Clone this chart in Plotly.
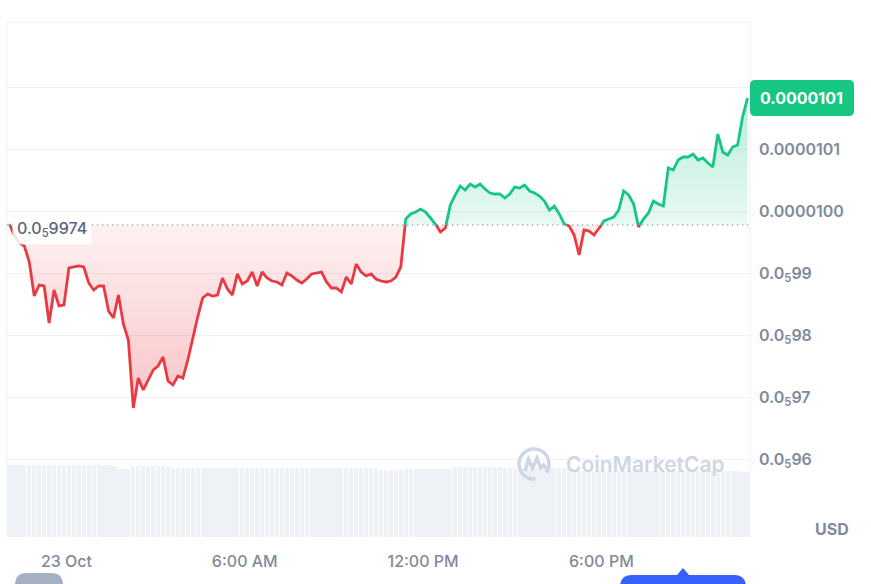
import math
from datetime import datetime, timedelta
import plotly.graph_objects as go

# ---------------- data ----------------
start_time = datetime(2023, 10, 22, 22, 5)
step_minutes = 10
prices = [
    9.9990e-6, 9.9797e-6, 9.9684e-6, 9.9635e-6, 9.9377e-6, 9.8829e-6, 9.9006e-6, 9.8990e-6, 9.8394e-6, 9.8926e-6,
    9.8668e-6, 9.8684e-6, 9.9281e-6, 9.9297e-6, 9.9313e-6, 9.9297e-6, 9.9039e-6, 9.8926e-6, 9.8990e-6, 9.8990e-6,
    9.8587e-6, 9.8474e-6, 9.8845e-6, 9.8377e-6, 9.8119e-6, 9.7023e-6, 9.7506e-6, 9.7313e-6, 9.7474e-6, 9.7635e-6,
    9.7700e-6, 9.7845e-6, 9.7458e-6, 9.7394e-6, 9.7539e-6, 9.7506e-6, 9.7797e-6, 9.8152e-6, 9.8490e-6, 9.8797e-6,
    9.8861e-6, 9.8829e-6, 9.8845e-6, 9.9119e-6, 9.8942e-6, 9.8845e-6, 9.9184e-6, 9.9023e-6, 9.9071e-6, 9.9216e-6,
    9.8990e-6, 9.9216e-6, 9.9119e-6, 9.9071e-6, 9.9055e-6, 9.9006e-6, 9.9200e-6, 9.9152e-6, 9.9087e-6, 9.9039e-6,
    9.9103e-6, 9.9184e-6, 9.9200e-6, 9.9216e-6, 9.9055e-6, 9.8958e-6, 9.8958e-6, 9.8894e-6, 9.9135e-6, 9.9023e-6,
    9.9345e-6, 9.9216e-6, 9.9152e-6, 9.9184e-6, 9.9103e-6, 9.9071e-6, 9.9055e-6, 9.9071e-6, 9.9135e-6, 9.9297e-6,
    1.00071e-5, 1.00152e-5, 1.00184e-5, 1.00232e-5, 1.00184e-5, 1.00087e-5, 9.9990e-6, 9.9861e-6, 9.9926e-6, 1.00297e-5,
    1.00458e-5, 1.00603e-5, 1.00539e-5, 1.00635e-5, 1.00587e-5, 1.00635e-5, 1.00555e-5, 1.00490e-5, 1.00474e-5, 1.00474e-5,
    1.00410e-5, 1.00474e-5, 1.00587e-5, 1.00571e-5, 1.00619e-5, 1.00523e-5, 1.00490e-5, 1.00442e-5, 1.00361e-5, 1.00216e-5,
    1.00281e-5, 1.00152e-5, 9.9990e-6, 9.9958e-6, 9.9813e-6, 9.9490e-6, 9.9894e-6, 9.9877e-6, 9.9813e-6, 9.9910e-6,
    1.00039e-5, 1.00071e-5, 1.00103e-5, 1.00216e-5, 1.00523e-5, 1.00458e-5, 1.00313e-5, 9.9942e-6, 1.00071e-5, 1.00168e-5,
    1.00361e-5, 1.00313e-5, 1.00281e-5, 1.00894e-5, 1.00861e-5, 1.01023e-5, 1.01071e-5, 1.01071e-5, 1.01119e-5, 1.01023e-5,
    1.01055e-5, 1.00974e-5, 1.00910e-5, 1.01442e-5, 1.01152e-5, 1.01103e-5, 1.01232e-5, 1.01265e-5, 1.01716e-5, 1.02023e-5,
]
volumes = [
    101.4, 101.0, 101.4, 101.2, 101.4, 100.8, 101.4, 101.4, 101.0, 101.4, 101.2, 101.4, 101.4, 100.8, 101.2, 101.4,
    101.4, 101.0, 101.4, 101.2, 101.4, 100.6,
    95.8, 95.6, 95.8,
    100.0, 100.4, 100.0, 99.8, 100.2, 100.0, 100.0, 99.6,
    97.2, 97.0, 97.2, 97.4, 97.2, 97.2, 97.0, 97.2, 97.4, 97.2, 97.2, 97.0, 97.2, 97.2, 97.4, 97.2, 97.0, 97.2,
    97.2, 97.4, 97.2, 97.0, 97.2, 97.2, 97.2, 97.4, 97.0, 97.2, 97.2, 97.2, 97.0, 97.4, 97.2, 97.2, 97.0, 97.2,
    97.2, 97.4, 97.2, 97.0, 97.2, 97.2,
    94.4, 94.2, 94.6, 94.4, 94.4,
    95.8, 95.6, 95.8, 96.0, 95.8, 95.8, 95.6, 95.8, 95.8, 96.0,
    98.6, 98.4, 98.6, 98.8, 98.6, 98.6, 98.4, 98.6, 98.8, 98.6,
    97.2, 97.0, 97.2, 97.4, 97.2, 97.2, 97.0, 97.2, 97.2, 97.4, 97.2, 97.0, 97.2, 97.2,
    93.0, 92.8, 93.0, 93.2, 93.0, 93.0, 92.8, 93.0, 93.2, 93.0, 93.0, 92.8, 93.0, 93.0, 93.2, 93.0, 92.8,
    93.0, 93.0, 93.2, 93.0, 92.8, 93.0, 93.0, 93.2, 93.0, 93.0, 92.8, 93.0, 93.2, 93.0, 93.0, 92.8, 93.0,
    92.0, 92.0,
]
base_price = 9.9974e-6
last_price_text = "0.0000101"
base_price_text = "0.0<sub>5</sub>9974"

x_tick_vals = ["2023-10-23 00:00", "2023-10-23 06:00", "2023-10-23 12:00", "2023-10-23 18:00"]
x_tick_text = ["23 Oct", "6:00 AM", "12:00 PM", "6:00 PM"]
y_tick_vals = [9.62e-6, 9.72e-6, 9.82e-6, 9.92e-6, 1.002e-5, 1.012e-5, 1.022e-5]
y_tick_text = ["0.0<sub>5</sub>96", "0.0<sub>5</sub>97", "0.0<sub>5</sub>98", "0.0<sub>5</sub>99",
               "0.0000100", "0.0000101", "0.0000102"]

times = [start_time + timedelta(minutes=step_minutes * i) for i in range(len(prices))]

# ---------------- split line at baseline crossings ----------------
xs, ys = [], []
for i in range(len(prices)):
    if i > 0:
        y0, y1 = prices[i - 1], prices[i]
        if (y0 - base_price) * (y1 - base_price) < 0:
            f = (base_price - y0) / (y1 - y0)
            xs.append(times[i - 1] + (times[i] - times[i - 1]) * f)
            ys.append(base_price)
    xs.append(times[i])
    ys.append(prices[i])

green_line = [y if y >= base_price else None for y in ys]
red_line = [y if y <= base_price else None for y in ys]
green_fill = [max(y, base_price) for y in ys]
red_fill = [min(y, base_price) for y in ys]
base_line = [base_price for _ in ys]

GREEN = "#16c784"
RED = "#ea3943"
GRID = "#eff2f5"
TICK = "#808a9d"
FONT = "Inter"

fig = go.Figure()

# volume bars
fig.add_trace(go.Bar(
    x=times, y=volumes, yaxis="y2", marker=dict(color="#eef1f5", line=dict(width=0)),
    width=step_minutes * 60 * 1000 * 0.86, hoverinfo="skip", showlegend=False,
))

# fills
fig.add_trace(go.Scatter(x=xs, y=base_line, mode="lines", line=dict(width=0),
                         hoverinfo="skip", showlegend=False))
fig.add_trace(go.Scatter(
    x=xs, y=green_fill, mode="lines", line=dict(width=0), fill="tonexty",
    fillgradient=dict(type="vertical",
                      colorscale=[[0, "rgba(22,199,132,0.10)"], [1, "rgba(22,199,132,0.30)"]],
                      start=base_price, stop=max(prices)),
    hoverinfo="skip", showlegend=False))
fig.add_trace(go.Scatter(x=xs, y=base_line, mode="lines", line=dict(width=0),
                         hoverinfo="skip", showlegend=False))
fig.add_trace(go.Scatter(
    x=xs, y=red_fill, mode="lines", line=dict(width=0), fill="tonexty",
    fillgradient=dict(type="vertical",
                      colorscale=[[0, "rgba(234,57,67,0.30)"], [1, "rgba(234,57,67,0.07)"]],
                      start=min(prices), stop=base_price),
    hoverinfo="skip", showlegend=False))

# lines
fig.add_trace(go.Scatter(x=xs, y=red_line, mode="lines", line=dict(color=RED, width=2.8),
                         connectgaps=False, hoverinfo="skip", showlegend=False))
fig.add_trace(go.Scatter(x=xs, y=green_line, mode="lines", line=dict(color=GREEN, width=2.8),
                         connectgaps=False, hoverinfo="skip", showlegend=False))

# ---------------- shapes ----------------
shapes = []
# plot frame (top, left, right)
for (x0, y0, x1, y1) in [(0, 1, 1, 1), (0, 0, 0, 1), (1, 0, 1, 1)]:
    shapes.append(dict(type="line", xref="paper", yref="paper", x0=x0, y0=y0, x1=x1, y1=y1,
                       line=dict(color=GRID, width=1), layer="below"))
# dotted baseline
shapes.append(dict(type="line", xref="paper", yref="y", x0=0, x1=1, y0=base_price, y1=base_price,
                   line=dict(color="#a6b0c3", width=1.3, dash="1.3px,3.7px"), layer="between"))
# last price badge
shapes.append(dict(
    type="path", xref="paper", yref="y", xsizemode="pixel", ysizemode="pixel",
    xanchor=1, yanchor=prices[-1],
    path="M 5,-18 L 99,-18 Q 104,-18 104,-13 L 104,13 Q 104,18 99,18 L 5,18 Q 0,18 0,13 L 0,-13 Q 0,-18 5,-18 Z",
    fillcolor=GREEN, line=dict(width=0), layer="above"))
# watermark logo
wm_x = (534 - 7) / 743
wm_y = (537 - 464) / 515
ring = []
for k in range(41):
    a = math.radians(-35 + k * 310 / 40)
    ring.append(f"{15 * math.cos(a):.2f},{15 * math.sin(a):.2f}")
shapes.append(dict(type="path", xref="paper", yref="paper", xsizemode="pixel", ysizemode="pixel",
                   xanchor=wm_x, yanchor=wm_y, path="M " + " L ".join(ring),
                   line=dict(color="#cfd6e4", width=3.5), layer="above"))
shapes.append(dict(type="path", xref="paper", yref="paper", xsizemode="pixel", ysizemode="pixel",
                   xanchor=wm_x, yanchor=wm_y,
                   path="M -9,-7 L -5.5,5 L -1.5,-4 L 3,6 L 6.5,-3.5 L 9.5,-1 L 13,-5",
                   line=dict(color="#cfd6e4", width=3.5), layer="above"))
# bottom UI pills (cut off by the window)
shapes.append(dict(type="path", xref="paper", yref="paper", xsizemode="pixel", ysizemode="pixel",
                   xanchor=0, yanchor=0,
                   path="M 8,-80 L 8,-48 Q 8,-36 20,-36 L 44,-36 Q 56,-36 56,-48 L 56,-80 Z",
                   fillcolor="#a6b0c3", line=dict(width=0), layer="above"))
shapes.append(dict(type="path", xref="paper", yref="paper", xsizemode="pixel", ysizemode="pixel",
                   xanchor=0, yanchor=0,
                   path="M 613,-80 L 613,-50 Q 613,-38 625,-38 L 670,-38 L 676,-31 L 682,-38 L 727,-38 "
                        "Q 739,-38 739,-50 L 739,-80 Z",
                   fillcolor="#3861fb", line=dict(width=0), layer="above"))

# ---------------- annotations ----------------
annotations = [
    dict(xref="paper", yref="y", x=1, y=prices[-1], xanchor="center", yanchor="middle", xshift=51,
         text=last_price_text, showarrow=False,
         font=dict(family=FONT, size=16, color="white", weight=700)),
    dict(xref="paper", yref="y", x=0, y=base_price, xanchor="left", yanchor="middle", xshift=5, yshift=-4,
         text=base_price_text, showarrow=False, bgcolor="rgba(255,255,255,0.85)", borderpad=4,
         font=dict(family=FONT, size=16, color="#58667e", weight=500)),
    dict(xref="paper", yref="paper", x=1, y=0, xanchor="center", yanchor="middle", xshift=82, yshift=8,
         text="USD", showarrow=False, font=dict(family=FONT, size=16, color=TICK, weight=700)),
    dict(xref="paper", yref="paper", x=(645 - 7) / 743, y=wm_y, xanchor="center", yanchor="middle",
         text="CoinMarketCap", showarrow=False,
         font=dict(family=FONT, size=21, color="#cfd6e4", weight=600)),
]

fig.update_layout(
    width=871, height=584,
    margin=dict(l=7, r=121, t=22, b=47),
    paper_bgcolor="white", plot_bgcolor="white",
    showlegend=False, bargap=0, hovermode=False,
    xaxis=dict(type="date", range=["2023-10-22 22:00", "2023-10-23 23:00"],
               tickvals=x_tick_vals, ticktext=x_tick_text, showgrid=False, zeroline=False,
               showline=False, ticks="", ticklabelstandoff=13,
               tickfont=dict(family=FONT, size=16, color=TICK, weight=500)),
    yaxis=dict(side="right", range=[9.4942e-6, 1.032484e-5], tickvals=y_tick_vals, ticktext=y_tick_text,
               showgrid=True, gridcolor=GRID, gridwidth=1, zeroline=False, showline=False, ticks="",
               ticklabelstandoff=8, tickfont=dict(family=FONT, size=16, color=TICK, weight=600)),
    yaxis2=dict(overlaying="y", range=[0, 725], visible=False),
    shapes=shapes, annotations=annotations,
)

fig.write_html("out.html", config={"displayModeBar": False},
               post_script="document.body.style.margin='0';")
